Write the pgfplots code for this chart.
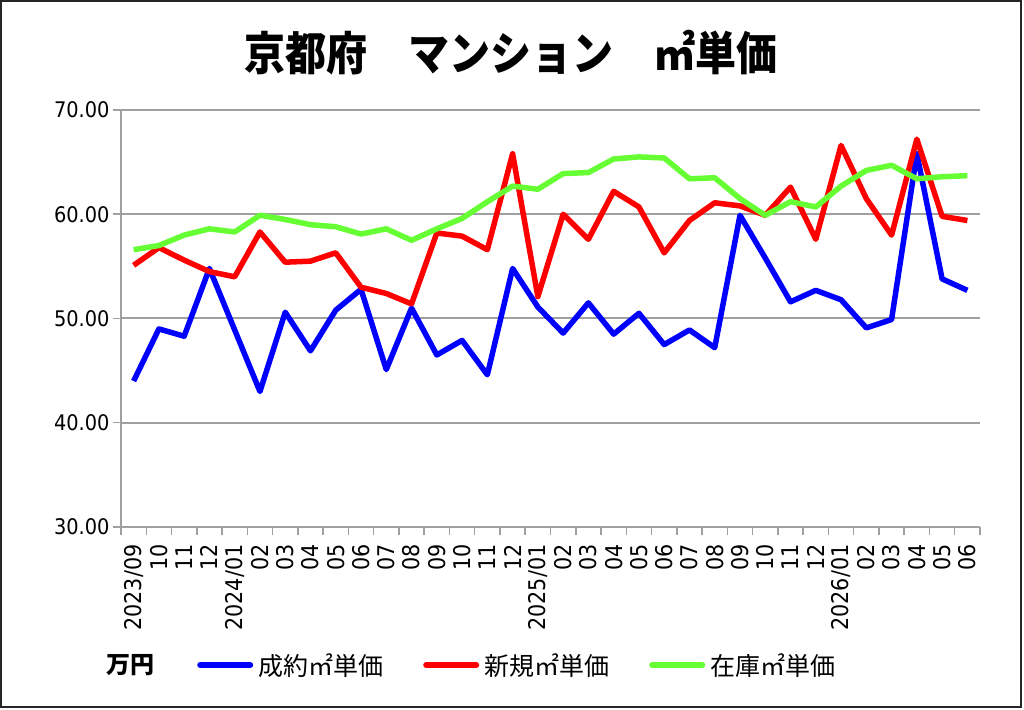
\documentclass[border=0pt]{standalone}
\usepackage{fontspec}
\setmainfont{Noto Sans CJK JP}
\newfontfamily\numfont{DejaVu Sans Condensed}
\usepackage{pgfplots}
\pgfplotsset{compat=1.18}
\definecolor{cblue}{RGB}{0,0,255}
\definecolor{cred}{RGB}{255,0,0}
\definecolor{cgreen}{RGB}{102,255,51}
\definecolor{gridgray}{RGB}{160,160,160}
\begin{document}
\begin{tikzpicture}[x=1pt,y=1pt]
\path[use as bounding box] (0,0) rectangle (1024,709);
\fill[white] (0,0) rectangle (1024,709);
\draw[line width=2pt, black!85] (1,2) rectangle (1021,708);
\node[font=\fontsize{41}{41}\selectfont\bfseries, yscale=1.12] at (511,656) {京都府　マンション　㎡単価};
\node[font=\fontsize{24}{24}\selectfont\bfseries] at (130,44) {万円};
\begin{axis}[
  at={(121pt,182pt)}, anchor=south west,
  scale only axis, width=859pt, height=417pt,
  xmin=-0.5, xmax=33.5, ymin=30, ymax=70,
  axis x line*=bottom, axis y line*=left,
  axis line style={gridgray, line width=2pt},
  tick style={gridgray, line width=1.5pt},
  major tick length=8pt, tick align=outside,
  ymajorgrids, grid style={gridgray, line width=2pt},
  ytick={30,40,50,60,70},
  /pgf/number format/assume math mode=true,
  yticklabel style={font=\numfont\fontsize{21.5}{21.5}\selectfont,
    /pgf/number format/fixed, /pgf/number format/fixed zerofill, /pgf/number format/precision=2},
  xtick={-0.5,0.5,...,33.5},
  x tick label as interval,
  xticklabels={2023/09,10,11,12,2024/01,02,03,04,05,06,07,08,09,10,11,12,2025/01,02,03,04,05,06,07,08,09,10,11,12,2026/01,02,03,04,05,06},
  xticklabel style={rotate=90, anchor=east, xshift=-6pt, font=\numfont\fontsize{23}{23}\selectfont},
  legend style={at={(axis description cs:0.0885,-0.331)}, anchor=west, draw=none, fill=none,
    inner sep=0pt, font=\fontsize{25}{25}\selectfont,
    nodes={inner sep=0pt, outer sep=0pt},
    /tikz/every even column/.append style={column sep=40pt},
    /tikz/every odd column/.append style={column sep=5pt}},
  legend columns=3,
  legend image code/.code={\draw[#1, line width=6pt, line cap=round] (0pt,0pt) -- (50pt,0pt);},
  every axis plot/.append style={line width=5.5pt, line join=round, mark=none},
]
\addplot[cblue] coordinates {
(0,44.0) (1,49.0) (2,48.3) (3,54.8) (4,48.9) (5,43.0) (6,50.6) (7,46.9) (8,50.8) (9,52.8)
(10,45.1) (11,51.0) (12,46.5) (13,47.9) (14,44.6) (15,54.8) (16,51.1) (17,48.6) (18,51.5) (19,48.5)
(20,50.5) (21,47.5) (22,48.9) (23,47.2) (24,59.9) (25,55.8) (26,51.6) (27,52.7) (28,51.8) (29,49.1)
(30,49.9) (31,65.8) (32,53.8) (33,52.7)};
\addlegendentry{成約㎡単価}
\addplot[cred] coordinates {
(0,55.1) (1,56.8) (2,55.6) (3,54.5) (4,54.0) (5,58.3) (6,55.4) (7,55.5) (8,56.3) (9,53.0)
(10,52.4) (11,51.4) (12,58.2) (13,57.9) (14,56.6) (15,65.8) (16,52.1) (17,60.0) (18,57.6) (19,62.2)
(20,60.7) (21,56.3) (22,59.4) (23,61.1) (24,60.8) (25,59.9) (26,62.6) (27,57.6) (28,66.6) (29,61.5)
(30,58.0) (31,67.2) (32,59.8) (33,59.4)};
\addlegendentry{新規㎡単価}
\addplot[cgreen] coordinates {
(0,56.6) (1,57.0) (2,58.0) (3,58.6) (4,58.3) (5,59.9) (6,59.5) (7,59.0) (8,58.8) (9,58.1)
(10,58.6) (11,57.5) (12,58.6) (13,59.6) (14,61.2) (15,62.7) (16,62.4) (17,63.9) (18,64.0) (19,65.3)
(20,65.5) (21,65.4) (22,63.4) (23,63.5) (24,61.5) (25,59.9) (26,61.2) (27,60.7) (28,62.7) (29,64.2)
(30,64.7) (31,63.4) (32,63.6) (33,63.7)};
\addlegendentry{在庫㎡単価}
\end{axis}
\end{tikzpicture}
\end{document}
